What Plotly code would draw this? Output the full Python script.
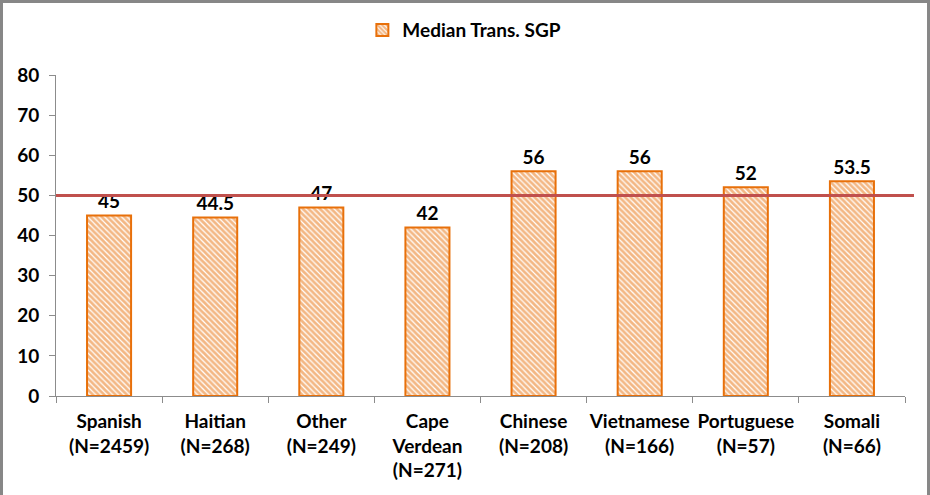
import plotly.graph_objects as go

categories = ["Spanish<br>(N=2459)", "Haitian<br>(N=268)", "Other<br>(N=249)",
              "Cape<br>Verdean<br>(N=271)", "Chinese<br>(N=208)", "Vietnamese<br>(N=166)",
              "Portuguese<br>(N=57)", "Somali<br>(N=66)"]
values = [45, 44.5, 47, 42, 56, 56, 52, 53.5]
value_labels = ["45", "44.5", "47", "42", "56", "56", "52", "53.5"]
series_name = "Median Trans. SGP"
reference_value = 50
y_ticks = [0, 10, 20, 30, 40, 50, 60, 70, 80]

ORANGE = "#E8700A"
FONT = "Lato"

fig = go.Figure()
fig.add_trace(go.Bar(
    x=categories, y=values, name=series_name,
    text=value_labels, textposition="outside", cliponaxis=False,
    textfont=dict(family=FONT, size=19, color="black", weight="bold"),
    marker=dict(color="white", line=dict(color=ORANGE, width=2),
                pattern=dict(shape="\\", fgcolor=ORANGE, bgcolor="white",
                             size=4, solidity=0.7, fillmode="overlay")),
    showlegend=True,
))

shapes = [
    dict(type="line", xref="paper", yref="y", x0=0, x1=1.0106,
         y0=reference_value, y1=reference_value,
         line=dict(color="#C0504D", width=3), layer="above"),
    dict(type="rect", xref="paper", yref="paper",
         x0=-0.0642, x1=1.0277, y0=-0.4, y1=1.229,
         line=dict(color="#878787", width=3), layer="above"),
]

fig.update_layout(
    width=930, height=495,
    margin=dict(l=56, r=25, t=75, b=99, autoexpand=False),
    paper_bgcolor="white", plot_bgcolor="white",
    bargap=0.585,
    shapes=shapes,
    font=dict(family=FONT, size=18, color="black"),
    legend=dict(orientation="h", x=0.481, xanchor="center", y=1.14, yanchor="middle",
                font=dict(family=FONT, size=19, color="black", weight="bold"),
                itemwidth=30),
    xaxis=dict(showline=True, linecolor="#8C8C8C", linewidth=1, automargin=False,
               ticks="outside", tickson="boundaries", ticklen=6, tickcolor="#8C8C8C",
               tickangle=0, ticklabelstandoff=8,
               tickfont=dict(family=FONT, size=19, color="black", weight="bold"),
               showgrid=False),
    yaxis=dict(range=[0, 80], tickvals=y_ticks, showline=True, linecolor="#8C8C8C",
               linewidth=1, ticks="outside", ticklen=6, tickcolor="#8C8C8C", automargin=False,
               ticklabelstandoff=6,
               tickfont=dict(family=FONT, size=19, color="black", weight="bold"),
               showgrid=False, zeroline=False),
)

fig.write_html("out.html", config={"displayModeBar": False},
               post_script="document.body.style.margin='0';")
